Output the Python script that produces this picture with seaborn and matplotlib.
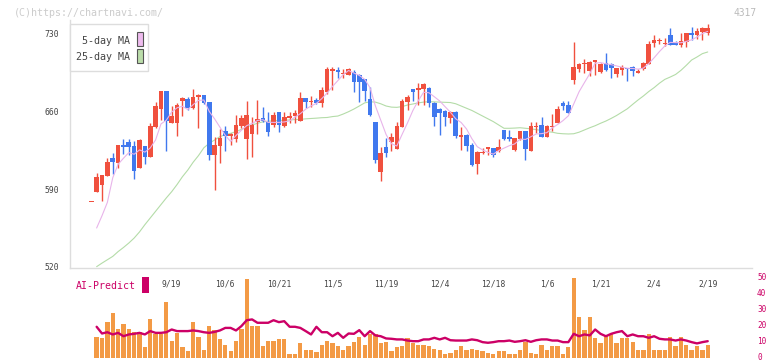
import numpy as np
import pandas as pd
import seaborn as sns
import matplotlib.pyplot as plt
import matplotlib.transforms as mtransforms
from matplotlib.patches import Rectangle

# ---- data ----
opens = [578, 587, 593.6, 602, 617.8, 613.6, 629.2, 632.2, 628.6, 609,
         628.6, 619, 646, 662, 678, 649.5, 649.5, 669.3, 670.8, 663,
         672.3, 674.4, 668.4, 620.5, 628.6, 642, 638, 635, 646.8, 634.9,
         639.4, 650.4, 653.7, 650.4, 647.4, 659.4, 646.8, 653.4, 655.8, 651,
         671.7, 668, 669.9, 667.5, 677.3, 696.2, 696.8, 692.9, 692.3, 694.7,
         692.3, 688.7, 670.5, 650.1, 605.6, 627.4, 631.9, 626.2, 645.9, 668.4,
         679.7, 678.8, 679.4, 680.9, 667.5, 661.5, 660, 654, 659.4, 637,
         638.5, 629.5, 612.4, 622.6, 626.2, 626.5, 624.1, 642.9, 637, 625,
         635, 642, 624.4, 646, 647.4, 637, 646, 649.5, 667, 665.4,
         687.8, 697.7, 702, 695.9, 704.3, 695.3, 702.8, 702.2, 693.2, 696.8,
         698.9, 699.5, 694.4, 697.4, 702.2, 720.7, 723.1, 720.1, 728.2, 720.7,
         719.2, 722.2, 729.7, 728.2, 730.6, 730.3]
highs = [578, 604, 603, 618, 622, 629.5, 635, 635, 633, 635,
         629, 649, 668.4, 678, 678, 664.5, 667, 672.9, 673, 680,
         675, 674.4, 668.4, 637, 643.5, 647, 640, 656.4, 656.4, 669,
         655, 669.9, 664, 659.4, 659, 659.4, 659.4, 659.4, 660.9, 677.3,
         672, 673.5, 672, 681.8, 699.8, 699.2, 699.2, 697.4, 698.3, 697,
         693, 689, 681.8, 650.1, 628, 635.5, 640, 650.4, 670.5, 674.4,
         680, 684.8, 685.4, 681.8, 668, 663, 661, 660, 660, 646,
         639, 631, 624, 627, 628, 627, 634.9, 643, 643, 636,
         642, 642, 650.4, 650.4, 655, 647.4, 657.3, 664.8, 669, 669,
         722, 703, 706.4, 705, 706, 703, 711.8, 703, 699, 701.3,
         699, 700, 697.4, 704.3, 723.1, 728.2, 725.2, 725.2, 734.2, 723.1,
         729.7, 730, 735.1, 734.2, 735.1, 738.1]
lows = [578, 587, 579.5, 602, 603.5, 609, 621, 620.5, 599, 609,
        612.7, 619, 645, 652, 624.4, 649, 638, 655.8, 661, 662,
        645, 666, 616, 589, 613, 624.4, 629.5, 632.5, 645, 616.6,
        619, 639, 650, 637.6, 646, 641, 646, 649, 649, 651,
        663, 664, 666, 664, 675, 678.8, 689.9, 689.3, 692, 677.3,
        668.4, 669, 655.5, 613.6, 597.5, 619, 624.4, 626, 645.9, 660.9,
        669, 665.4, 665.4, 663.3, 646.5, 638.5, 646.5, 649.5, 636, 625,
        624, 611, 603.5, 621, 620.5, 618.4, 623.5, 634, 633, 624,
        634, 616, 624, 640, 637, 637, 642, 649, 661, 658.5,
        684, 695, 693.8, 691.4, 692.3, 694, 696, 689.3, 690.8, 692.3,
        686.9, 691.4, 693.8, 697, 702, 717.7, 720.1, 718.3, 719, 719,
        717.7, 717.7, 723.7, 724.3, 723.7, 728.2]
closes = [578, 601, 602.6, 614, 614.2, 629.2, 628, 628, 606.5, 634,
          619, 646.5, 664.5, 678, 651, 655.5, 665.4, 671.7, 663, 673,
          674.4, 667.5, 620.5, 629.5, 635.5, 638, 639.4, 647.4, 653.4, 656.4,
          647.4, 652.8, 651, 641.5, 656.4, 647.4, 654.9, 655.8, 657.9, 672,
          668, 669, 667.5, 678.8, 697.7, 697.4, 695.3, 693.8, 697.7, 686.3,
          686.3, 678.2, 656.4, 616, 622, 622, 636.4, 646.5, 669.3, 672.9,
          677.3, 680.3, 684.2, 667.5, 654.9, 657.9, 654.9, 659.4, 637.9, 638.5,
          628.6, 611.5, 623.5, 623.5, 627.4, 620.5, 627.4, 634.6, 634.6, 635.5,
          642, 626, 646.5, 647, 637, 646.5, 647, 661.8, 664.5, 658.5,
          699.5, 702.2, 702.8, 704.3, 705.8, 702.2, 696.8, 698.9, 698.9, 699.8,
          697.7, 695.9, 695.9, 703.4, 720.1, 723.7, 723.7, 721.3, 719.2, 719.2,
          723.1, 729.7, 728.2, 731.8, 734.2, 734.2]

# moving averages, volume and AI-Predict start at the second candle
ma5 = [555, 566, 578, 600, 612.2, 617.6, 622.7, 621.2, 625.1, 623.1,
       626.8, 634.1, 648.4, 651.8, 659.1, 662.9, 664.3, 661.3, 665.7, 669.5,
       669.9, 659.7, 653.0, 645.5, 638.2, 632.6, 638.0, 642.7, 646.9, 648.8,
       651.5, 652.2, 649.8, 649.8, 649.8, 650.2, 651.2, 654.5, 657.6, 661.7,
       664.5, 666.9, 671.1, 676.2, 682.1, 687.3, 692.6, 696.4, 694.1, 691.9,
       688.5, 681.0, 664.6, 651.8, 638.9, 630.6, 628.6, 639.2, 649.4, 660.5,
       669.3, 676.8, 676.4, 672.8, 669.0, 663.9, 658.9, 653.0, 649.7, 643.9,
       635.2, 628.0, 625.1, 622.9, 621.3, 624.5, 626.7, 628.9, 630.5, 634.8,
       634.5, 636.9, 639.4, 639.7, 640.6, 644.8, 647.9, 651.4, 655.7, 666.3,
       677.3, 685.5, 693.5, 702.9, 703.5, 702.4, 701.6, 700.5, 699.3, 698.4,
       698.2, 697.6, 698.5, 702.6, 707.8, 713.4, 718.4, 721.6, 721.4, 721.3,
       722.5, 723.9, 726.4, 729.4, 731.5]
ma25 = [520.3, 523.5, 526.5, 529.5, 533.8, 537.5, 541.5, 546, 551.5, 558,
        564, 570, 576, 582, 587.6, 594, 601, 607, 614, 620,
        627, 631, 634, 637, 638.8, 640, 641.5, 643.5, 645.5, 647.5,
        649, 650.3, 650.8, 651.2, 651.5, 651.7, 652, 652.3, 652.5, 653,
        653.3, 653.6, 654, 654.2, 655, 655.5, 657.3, 659.4, 661.8, 664.5,
        667.3, 668.3, 668, 666.5, 664.5, 663.5, 663.3, 664, 665.4, 666.3,
        667.3, 668, 668.4, 668.2, 668, 667.8, 667.6, 666.5, 664.5, 662.5,
        660.5, 658, 655.5, 653, 650.5, 647.5, 644.5, 644.5, 644.7, 645,
        644.5, 644, 643.3, 642.5, 641.5, 641, 640, 639.6, 639.4, 639.6,
        641, 643, 645, 646.8, 649, 651, 653.4, 656, 659, 662,
        666, 669.9, 673.5, 677.5, 681, 685, 688.4, 690.5, 692.8, 696.5,
        701, 705.8, 708.5, 711.5, 713]
volume = [12.7, 11.9, 22.5, 27.7, 18.1, 20.8, 18.1, 16.2, 16.2, 6.3,
          23.8, 14.4, 14.4, 35, 10.2, 15.4, 6.3, 4.0, 21.9, 13.1,
          5.0, 19.4, 16.9, 11.3, 8.1, 4.0, 10.2, 18.1, 48.8, 20,
          20, 6.9, 10.6, 10.2, 11.3, 11.3, 1.9, 2.5, 8.8, 4.4,
          4.4, 3.5, 8.1, 10.6, 8.8, 6.9, 4.4, 7.5, 9.4, 13.1,
          8.1, 14.4, 15, 8.8, 10, 3.8, 6.3, 7.5, 11.9, 8.8,
          8.1, 8.1, 7.5, 5.6, 5, 2.5, 3.1, 5, 6.9, 4.4,
          5.6, 5, 3.8, 3.1, 1.9, 3.8, 3.8, 2.5, 2.5, 4.4,
          9.4, 3.1, 1.9, 8.1, 4.4, 7.5, 7.5, 1.9, 6.3, 49.4,
          25.6, 17.5, 25.6, 11.9, 8.8, 13.8, 14.4, 8.8, 12.5, 12.5,
          9.4, 5, 5, 15, 4.4, 5, 4.4, 13.1, 6.9, 13.1,
          8.1, 5, 7.5, 5, 8.1]
ai_predict = [19.2, 15, 15.8, 14.4, 15.4, 13.3, 14.4, 14.8, 15.4, 14.4,
              16.5, 15.4, 15.4, 15.8, 17.5, 16.5, 16.5, 16.5, 16.9, 16.5,
              15.8, 15.4, 16, 16.9, 18.5, 18.5, 16.9, 19.6, 23.3, 23.8,
              21.7, 21.7, 21.7, 23.3, 22.1, 22.7, 19.2, 19.2, 18.5, 16.5,
              14.4, 19.2, 15.8, 15.8, 13.3, 15.4, 12.3, 15, 14.8, 17.1,
              13.3, 16.5, 13.8, 13.3, 11.9, 11.7, 11.3, 11.3, 10.6, 10.2,
              10.2, 11.3, 11.3, 12.3, 11.3, 12.3, 10.8, 10.6, 10.6, 10.6,
              11.3, 10.8, 9.6, 9.2, 9.6, 10.2, 10.2, 10.6, 9.8, 10.2,
              10.8, 9.8, 10.8, 11.3, 11.3, 10.6, 10.6, 9.6, 9.6, 14.8,
              13.3, 14.4, 13.8, 17.5, 14.8, 13.3, 14.8, 15.8, 16.5, 13.3,
              14.4, 13.3, 13.3, 12.3, 13.3, 11.7, 11.3, 11.3, 10.6, 11.3,
              10.6, 9.6, 8.8, 9.6, 10.2]
date_labels = ['9/19', '10/6', '10/21', '11/5', '11/19', '12/4',
               '12/18', '1/6', '1/21', '2/4', '2/19']
date_pos = [15, 25, 35, 45, 55, 65, 75, 85, 95, 105, 115]
price_ticks = [520, 590, 660, 730]
pred_ticks = [0, 10, 20, 30, 40, 50]

# ---- style ----
sns.set_style('white')
plt.rcParams['font.family'] = ['DejaVu Sans Mono', 'DejaVu Sans']

UP = '#f0503e'
DOWN = '#4078ee'
GRID = '#dddddd'
CRIMSON = '#cc0066'

W, H = 772, 361
fig = plt.figure(figsize=(W / 100, H / 100), dpi=100)

def fx(px):
    return px / W

def fy(px):
    return 1 - px / H

xmin, xmax = -3.97, 123.26

# ---- price panel ----
ax = fig.add_axes([fx(70), fy(268), fx(682), 248 / H])
ax.set_zorder(2)
ax.patch.set_alpha(0)
idx = np.arange(len(closes))
o = np.array(opens)
c = np.array(closes)
colors = [UP if cc >= oo else DOWN for oo, cc in zip(o, c)]
ax.vlines(idx, lows, highs, colors=colors, lw=1, zorder=2)
body = np.maximum(np.abs(c - o), 0.9)
ax.bar(idx, body, bottom=np.minimum(o, c), width=0.86, color=colors,
       linewidth=0, zorder=3)

ma = pd.DataFrame({'day': idx[1:], 'ma5': ma5, 'ma25': ma25})
sns.lineplot(data=ma, x='day', y='ma25', color='#b4dca8', lw=0.8, ax=ax, zorder=1)
sns.lineplot(data=ma, x='day', y='ma5', color='#e8b4ea', lw=0.8, ax=ax, zorder=4)

ax.set_xlim(xmin, xmax)
ax.set_ylim(519.1, 741.7)
ax.set_xlabel('')
ax.set_ylabel('')
for s in ['top', 'right']:
    ax.spines[s].set_visible(False)
for s in ['left', 'bottom']:
    ax.spines[s].set_color(GRID)
    ax.spines[s].set_linewidth(1)
ax.set_yticks(price_ticks)
ax.set_yticklabels([str(t) for t in price_ticks])
ax.tick_params(axis='y', length=3.6, width=1, color=GRID, pad=4,
               labelsize=5.8, labelcolor='#444444')
ax.set_xticks(date_pos)
ax.set_xticklabels(date_labels)
ax.tick_params(axis='x', which='major', length=0, pad=8.5,
               labelsize=5.8, labelcolor='#444444')
ax.set_xticks(np.linspace(-3.79, 123.26, 12), minor=True)
ax.tick_params(axis='x', which='minor', length=3.6, width=1, color=GRID)

# ---- volume / AI-Predict panel ----
ax2 = fig.add_axes([fx(70), fy(357.5), fx(682), 80 / H])
ax2.set_zorder(1)
ax2.patch.set_alpha(0)
vol = pd.DataFrame({'day': idx[1:], 'volume': volume, 'ai': ai_predict})
sns.barplot(data=vol, x='day', y='volume', native_scale=True, width=0.8,
            color='#f39a45', saturation=1, errorbar=None, linewidth=0, ax=ax2)
sns.lineplot(data=vol, x='day', y='ai', color=CRIMSON, lw=1.7, ax=ax2)
ax2.set_xlim(xmin, xmax)
ax2.set_ylim(0, 50)
ax2.set_xlabel('')
ax2.set_ylabel('')
for s in ax2.spines.values():
    s.set_visible(False)
ax2.set_xticks([])
ax2.yaxis.tick_right()
ax2.set_yticks(pred_ticks)
ax2.set_yticklabels([str(t) for t in pred_ticks])
ax2.tick_params(axis='y', length=0, pad=3.6, labelsize=5.6, labelcolor=CRIMSON)
shift = mtransforms.ScaledTranslation(0, -0.025, fig.dpi_scale_trans)
for lab in ax2.get_yticklabels():
    lab.set_verticalalignment('baseline')
    lab.set_transform(lab.get_transform() + shift)

# ---- legend boxes and captions ----
fig.add_artist(Rectangle((fx(70), fy(71)), fx(78), 47 / H, transform=fig.transFigure,
                         facecolor='white', edgecolor=GRID, lw=1, zorder=5))
fig.text(fx(129.5), fy(40.7), '5-day MA', ha='right', va='center',
         fontsize=7.2, color='#444444', zorder=6)
fig.text(fx(129.5), fy(57.3), '25-day MA', ha='right', va='center',
         fontsize=7.2, color='#444444', zorder=6)
fig.add_artist(Rectangle((fx(136.7), fy(46)), fx(6), 14 / H, transform=fig.transFigure,
                         facecolor='#eebbee', edgecolor='#555555', lw=0.8, zorder=6))
fig.add_artist(Rectangle((fx(136.7), fy(63)), fx(6), 14 / H, transform=fig.transFigure,
                         facecolor='#bbddaa', edgecolor='#555555', lw=0.8, zorder=6))

fig.text(fx(76), fy(286), 'AI-Predict', ha='left', va='center',
         fontsize=7.1, color=CRIMSON)
fig.add_artist(Rectangle((fx(142), fy(293)), fx(6.5), 16 / H, transform=fig.transFigure,
                         facecolor=CRIMSON, edgecolor='none', zorder=6))

fig.text(fx(14), fy(12.5), '(C)https://chartnavi.com/', ha='left', va='center',
         fontsize=7.2, color='#cccccc')
fig.text(fx(757), fy(12.5), '4317', ha='right', va='center',
         fontsize=6.9, color='#bbbbbb')

fig.savefig('out.png', dpi=100)
